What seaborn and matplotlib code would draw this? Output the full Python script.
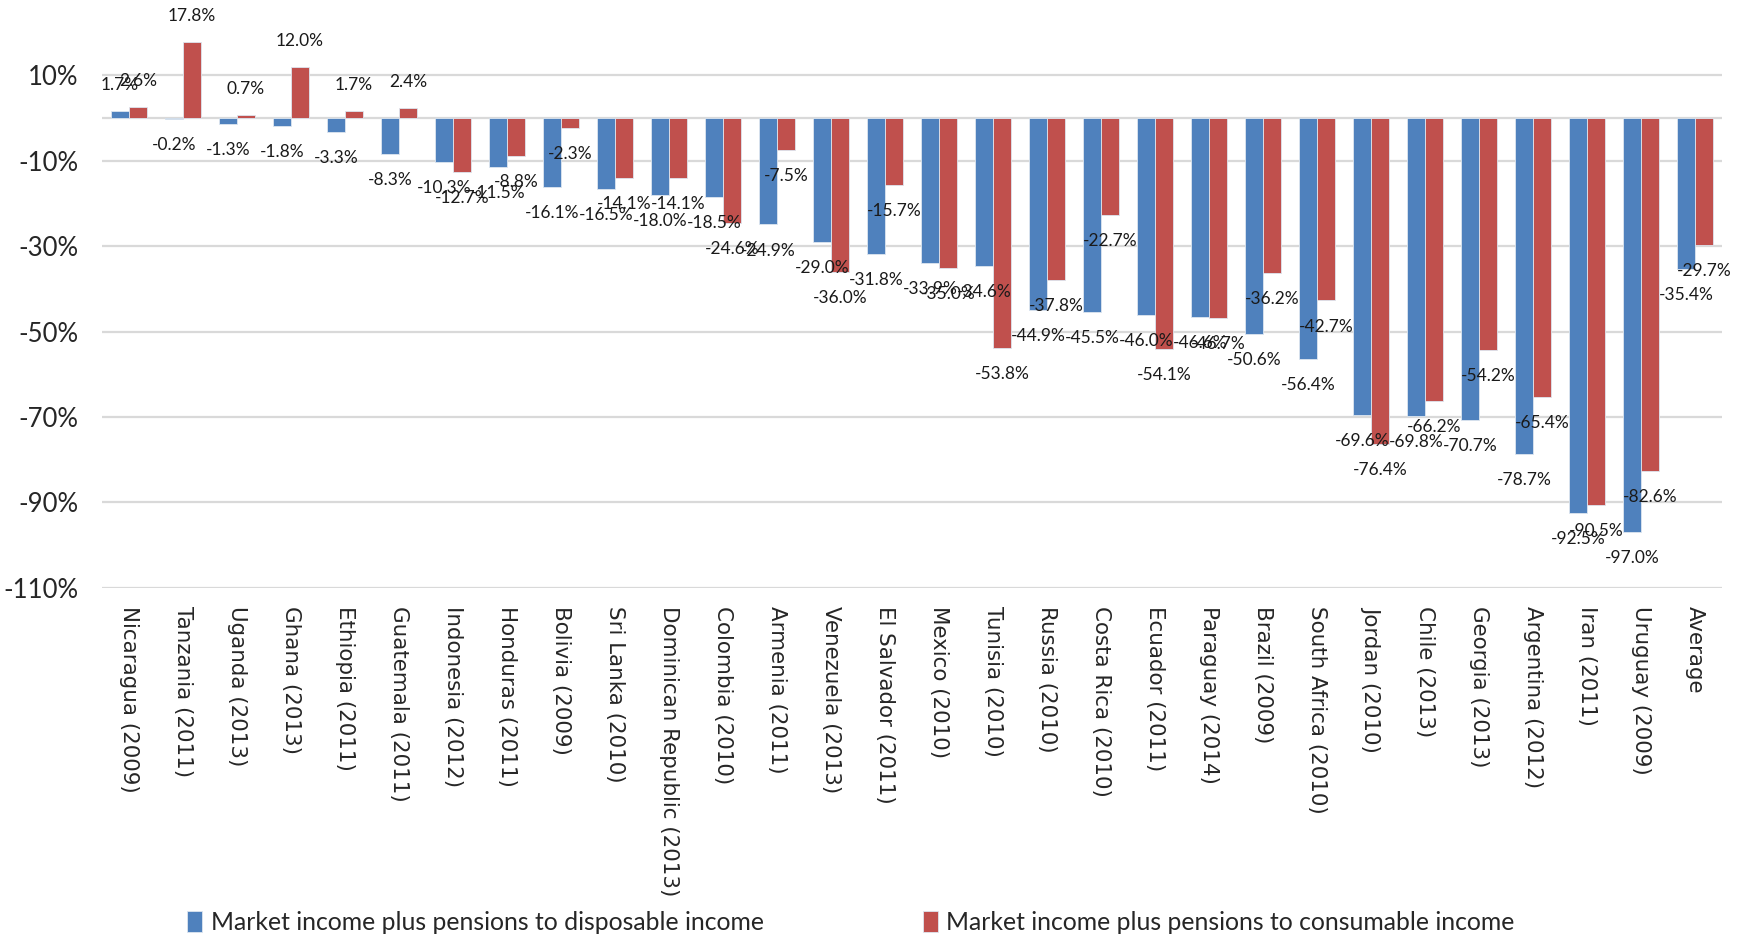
import matplotlib
matplotlib.use("Agg")
import matplotlib.pyplot as plt
import seaborn as sns
import pandas as pd
from matplotlib.ticker import FuncFormatter

countries = [
    "Nicaragua (2009)", "Tanzania (2011)", "Uganda (2013)", "Ghana (2013)",
    "Ethiopia (2011)", "Guatemala (2011)", "Indonesia (2012)", "Honduras (2011)",
    "Bolivia (2009)", "Sri Lanka (2010)", "Dominican Republic (2013)",
    "Colombia (2010)", "Armenia (2011)", "Venezuela (2013)", "El Salvador (2011)",
    "Mexico (2010)", "Tunisia (2010)", "Russia (2010)", "Costa Rica (2010)",
    "Ecuador (2011)", "Paraguay (2014)", "Brazil (2009)", "South Africa (2010)",
    "Jordan (2010)", "Chile (2013)", "Georgia (2013)", "Argentina (2012)",
    "Iran (2011)", "Uruguay (2009)", "Average",
]

disposable = [
    1.7, -0.2, -1.3, -1.8, -3.3, -8.3, -10.3, -11.5, -16.1, -16.5, -18.0,
    -18.5, -24.9, -29.0, -31.8, -33.9, -34.6, -44.9, -45.5, -46.0, -46.6,
    -50.6, -56.4, -69.6, -69.8, -70.7, -78.7, -92.5, -97.0, -35.4,
]

consumable = [
    2.6, 17.8, 0.7, 12.0, 1.7, 2.4, -12.7, -8.8, -2.3, -14.1, -14.1,
    -24.6, -7.5, -36.0, -15.7, -35.0, -53.8, -37.8, -22.7, -54.1, -46.7,
    -36.2, -42.7, -76.4, -66.2, -54.2, -65.4, -90.5, -82.6, -29.7,
]

series_names = [
    "Market income plus pensions to disposable income",
    "Market income plus pensions to consumable income",
]

y_ticks = [10, -10, -30, -50, -70, -90, -110]

df = pd.DataFrame({
    "country": countries * 2,
    "value": disposable + consumable,
    "series": [series_names[0]] * len(countries) + [series_names[1]] * len(countries),
})

sns.set_theme(style="white")
plt.rcParams["font.family"] = ["DejaVu Sans"]

BLUE = "#4F81BD"
RED = "#C0504D"
GRID = "#D9D9D9"

fig = plt.figure(figsize=(17.44, 9.36), dpi=100)
ax = fig.add_axes([0.0585, 0.372, 0.929, 0.593])

sns.barplot(
    data=df, x="country", y="value", hue="series",
    palette=[BLUE, RED], saturation=1, width=0.667, gap=0, ax=ax,
    order=countries, hue_order=series_names, legend=True,
    edgecolor="#dde6f0", linewidth=0.6,
)

ax.set_ylim(-110, 20)
ax.set_xlim(-0.5, len(countries) - 0.5)
ax.set_yticks(y_ticks)
ax.yaxis.set_major_formatter(FuncFormatter(lambda v, _: f"{v:.0f}%"))
ax.set_xlabel("")
ax.set_ylabel("")

for y in y_ticks + [0]:
    ax.axhline(y, color=GRID, linewidth=1.6, zorder=0)

for s in ax.spines.values():
    s.set_visible(False)

ax.tick_params(axis="y", length=0, pad=17, labelsize=18.5)
for lab in ax.get_yticklabels():
    lab.set_family("Lato")
ax.tick_params(axis="x", length=0, pad=13, labelsize=15.4)
ax.set_xticks(range(len(countries)))
ax.set_xticklabels(countries, rotation=-90, ha="center", va="top",
                   rotation_mode="default")

for container, vals in zip(ax.containers, [disposable, consumable]):
    ax.bar_label(
        container, labels=[f"{v:.1f}%" for v in vals], padding=13,
        fontsize=12.5, family="Lato", color="#1a1a1a", clip_on=False,
    )

handles, labels = ax.get_legend_handles_labels()
ax.get_legend().remove()
fig.legend(
    handles, labels, loc="lower center", bbox_to_anchor=(0.488, -0.022),
    ncol=2, frameon=False, prop={"family": "Lato", "size": 17.85},
    handlelength=0.6, handleheight=0.9, handletextpad=0.35,
    columnspacing=6.4,
)

fig.savefig("out.png", dpi=100)
